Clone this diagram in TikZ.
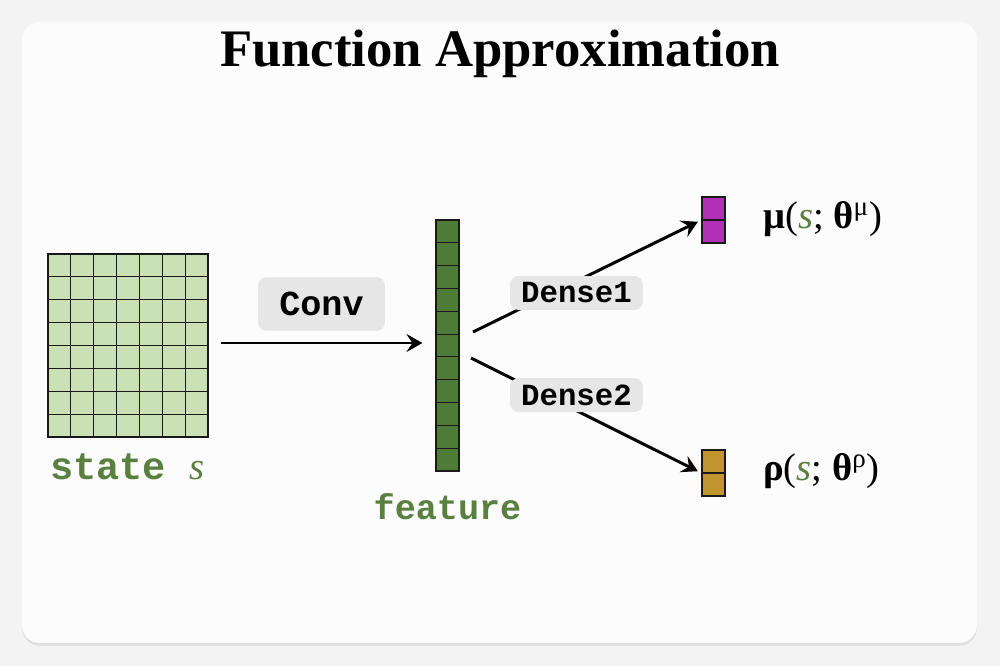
\documentclass[tikz,border=0pt]{standalone}
\usepackage{fontspec}
\setmainfont{Liberation Serif}
\setmonofont{Liberation Mono}
\usetikzlibrary{arrows.meta,shadows}
\definecolor{outerbg}{HTML}{F3F3F3}
\definecolor{cardbg}{HTML}{FCFCFC}
\definecolor{gridfill}{HTML}{C9E0B4}
\definecolor{featfill}{HTML}{4F7B38}
\definecolor{txtgreen}{HTML}{5A8040}
\definecolor{purplefill}{HTML}{B22FB8}
\definecolor{goldfill}{HTML}{C0952E}
\definecolor{labelgray}{HTML}{E6E6E6}
\begin{document}
\begin{tikzpicture}[x=0.02cm,y=-0.02cm,
  cell/.style={draw=black!90, line width=0.65pt},
  labelbox/.style={fill=labelgray, rounded corners=5pt, inner sep=0pt, font=\ttfamily\bfseries},
  conn/.style={line width=1.7pt, -{Stealth[length=0.32cm,width=0.36cm,inset=0.12cm]}},
  gtext/.style={text=txtgreen, font=\ttfamily\bfseries},
  mathlbl/.style={anchor=west, font=\fontsize{22}{26}\selectfont}]
\useasboundingbox (0,0) rectangle (1000,666);
\fill[outerbg] (0,0) rectangle (1000,666);
\node[fill=cardbg, rounded corners=10pt, minimum width=19.1cm, minimum height=12.42cm,
  drop shadow={opacity=0.18, shadow xshift=0pt, shadow yshift=-1.5pt}] (card) at (499.5,332.5) {};
% title
\node[font=\fontsize{30}{34}\selectfont\bfseries] (title) at (500,54) {Function Approximation};
% state grid
\node[cell, fill=gridfill, minimum width=3.2cm, minimum height=3.66cm, inner sep=0pt] (state) at (128,345.5) {};
\foreach \i in {1,...,6} \draw[cell] ({48+\i*160/7},254) -- ({48+\i*160/7},437);
\foreach \j in {1,...,7} \draw[cell] (48,{254+\j*183/8}) -- (208,{254+\j*183/8});
\node[gtext, font=\ttfamily\bfseries\fontsize{22}{26}\selectfont, anchor=west] (statelbl) at (44,467) {state \textrm{\mdseries\itshape s}};
% feature column
\node[cell, fill=featfill, minimum width=0.46cm, minimum height=5.02cm, inner sep=0pt] (feat) at (447.5,345.5) {};
\foreach \j in {1,...,10} \draw[cell] (436,{220+\j*251/11}) -- (459,{220+\j*251/11});
\node[gtext, font=\ttfamily\bfseries\fontsize{20}{24}\selectfont] (featlbl) at (447.5,507) {feature};
% outputs
\node[cell, fill=purplefill, minimum width=0.46cm, minimum height=0.92cm, inner sep=0pt] (mu) at (713.5,220) {};
\draw[cell] (mu.west) -- (mu.east);
\node[cell, fill=goldfill, minimum width=0.46cm, minimum height=0.92cm, inner sep=0pt] (rho) at (713.5,473) {};
\draw[cell] (rho.west) -- (rho.east);
\node[mathlbl] (mulbl) at (757,219)
  {{\bfseries μ}(\textcolor{txtgreen}{\itshape s}; {\bfseries θ}\textsuperscript{μ})};
\node[mathlbl] (rholbl) at (757,471)
  {{\bfseries ρ}(\textcolor{txtgreen}{\itshape s}; {\bfseries θ}\textsuperscript{ρ})};
% connectors
\draw[conn, shorten <=12*0.02cm, shorten >=13*0.02cm] (state.east |- 0,343) coordinate (cs) -- (feat.west |- 0,343) coordinate (ce);
\coordinate (d1s) at (473,332);
\coordinate (d2s) at (471,358);
\draw[conn, shorten >=0.08cm] (d1s) -- (mu.west);
\draw[conn, shorten >=0.08cm] (d2s) -- (rho.west);
% labels
\node[labelbox, minimum width=2.54cm, minimum height=1.08cm, font=\ttfamily\bfseries\fontsize{20}{24}\selectfont] (conv) at (321.5,304) {Conv};
\node[labelbox, minimum width=2.66cm, minimum height=0.68cm, font=\ttfamily\bfseries\fontsize{17.5}{21}\selectfont] (dense1) at (576.5,293) {Dense1};
\node[labelbox, minimum width=2.66cm, minimum height=0.68cm, font=\ttfamily\bfseries\fontsize{17.5}{21}\selectfont] (dense2) at (576.5,395) {Dense2};
\end{tikzpicture}
\end{document}
